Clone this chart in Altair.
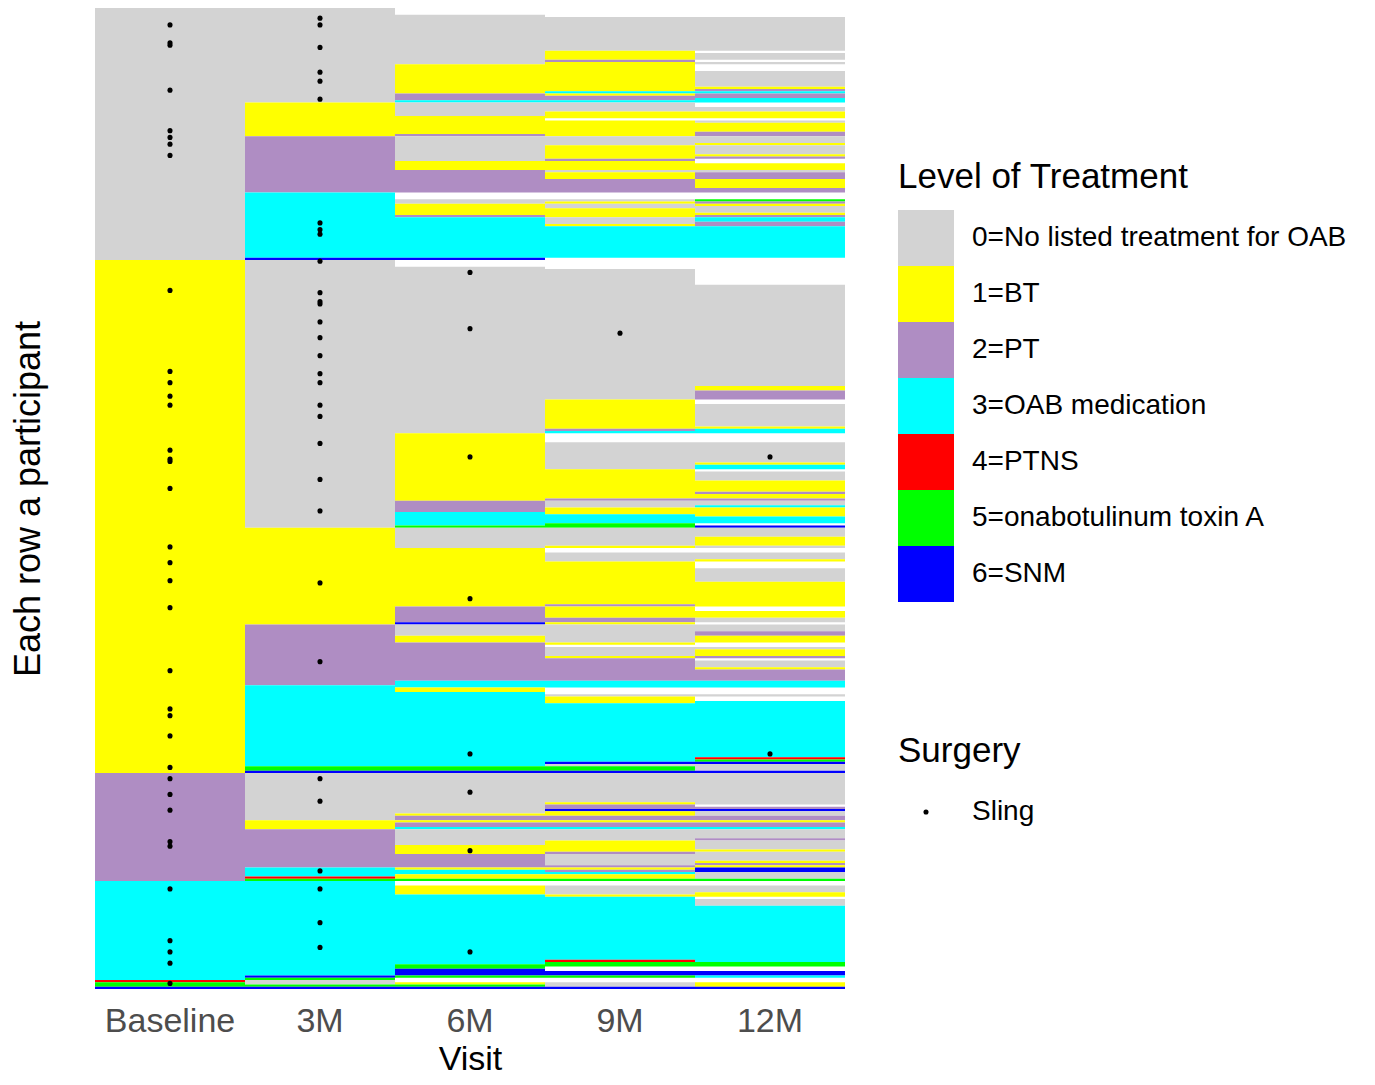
import altair as alt
import pandas as pd

VISITS = ["Baseline", "3M", "6M", "9M", "12M"]
LEVEL_LABELS = [
    "0=No listed treatment for OAB",
    "1=BT",
    "2=PT",
    "3=OAB medication",
    "4=PTNS",
    "5=onabotulinum toxin A",
    "6=SNM",
]
LEVEL_COLORS = ["#d3d3d3", "#ffff00", "#af8dc3", "#00ffff", "#ff0000", "#00ff00", "#0000ff"]
N_PARTICIPANTS = 436

# Runs of consecutive participants (top to bottom): (treatment level, number of participants)
# level -1 = no data recorded at that visit
RUNS_BASELINE = [(0, 112), (1, 228), (2, 48), (3, 44), (4, 1), (5, 2), (6, 1)]
RUNS_3M = [(0, 42), (1, 15), (2, 25), (3, 29), (6, 1), (0, 119), (1, 43), (2, 27), (3, 36), (5, 2),
           (6, 1), (0, 21), (1, 4), (2, 17), (3, 4), (4, 1), (5, 1), (3, 42), (6, 1), (5, 1), (0, 2),
           (5, 1), (6, 1)]
RUNS_6M = [(-1, 3), (0, 22), (1, 13), (2, 3), (3, 1), (0, 6), (1, 8), (2, 1), (0, 11), (1, 4), (2, 10),
           (-1, 3), (0, 2), (1, 5), (2, 1), (3, 18), (6, 1), (-1, 3), (0, 74), (1, 30), (2, 5), (3, 6),
           (5, 1), (0, 9), (1, 26), (2, 7), (6, 1), (0, 5), (1, 3), (2, 17), (3, 3), (1, 2), (3, 33),
           (5, 2), (6, 1), (0, 18), (1, 1), (2, 2), (1, 1), (2, 2), (3, 1), (0, 7), (1, 4), (2, 6),
           (1, 1), (3, 2), (1, 2), (5, 1), (-1, 2), (1, 4), (3, 31), (5, 2), (6, 3), (5, 1), (-1, 2),
           (1, 1), (5, 1), (6, 1)]
RUNS_9M = [(-1, 4), (0, 15), (1, 4), (2, 1), (1, 13), (3, 1), (1, 1), (2, 2), (3, 1), (0, 4), (1, 3),
           (-1, 1), (1, 7), (0, 4), (1, 6), (2, 1), (1, 4), (0, 1), (1, 3), (2, 6), (-1, 3), (0, 1),
           (1, 1), (0, 2), (1, 4), (0, 3), (1, 1), (3, 14), (-1, 5), (0, 58), (1, 13), (2, 1), (3, 1),
           (-1, 4), (0, 12), (1, 13), (2, 1), (0, 3), (1, 3), (3, 4), (5, 2), (0, 8), (1, 1), (-1, 2),
           (0, 4), (1, 19), (2, 1), (1, 5), (2, 2), (1, 1), (0, 8), (1, 1), (-1, 1), (0, 4), (1, 1),
           (2, 10), (3, 3), (-1, 3), (0, 1), (1, 3), (3, 26), (6, 1), (0, 1), (5, 2), (6, 1), (0, 13),
           (1, 1), (2, 2), (6, 1), (1, 2), (2, 2), (1, 1), (2, 2), (3, 1), (0, 5), (1, 5), (2, 1),
           (0, 5), (2, 1), (1, 1), (2, 1), (3, 1), (1, 2), (5, 1), (-1, 2), (0, 4), (1, 1), (3, 28),
           (4, 1), (5, 2), (-1, 2), (6, 2), (5, 1), (-1, 2), (0, 2), (6, 1)]
RUNS_12M = [(-1, 4), (0, 15), (-1, 1), (0, 3), (-1, 1), (0, 1), (-1, 3), (0, 7), (1, 1), (2, 1), (3, 1),
            (2, 2), (3, 2), (-1, 2), (0, 2), (1, 3), (-1, 1), (0, 1), (1, 4), (2, 2), (0, 3), (1, 1),
            (0, 4), (1, 1), (2, 1), (-1, 2), (1, 3), (0, 1), (2, 3), (1, 4), (2, 2), (-1, 3), (5, 1),
            (2, 1), (1, 1), (0, 3), (1, 1), (2, 1), (3, 2), (2, 2), (3, 14), (-1, 12), (0, 45), (1, 2),
            (2, 4), (-1, 2), (0, 10), (1, 1), (3, 2), (-1, 4), (0, 9), (1, 1), (3, 2), (-1, 1), (0, 4),
            (1, 5), (2, 1), (1, 2), (2, 1), (0, 2), (3, 1), (1, 4), (3, 3), (-1, 1), (6, 1), (0, 4),
            (1, 4), (0, 1), (-1, 2), (0, 3), (1, 1), (-1, 3), (0, 6), (1, 11), (-1, 2), (1, 3), (0, 2),
            (-1, 1), (0, 3), (2, 2), (1, 3), (-1, 2), (0, 1), (1, 3), (2, 1), (-1, 1), (0, 3), (1, 1),
            (2, 5), (3, 3), (-1, 3), (0, 1), (-1, 2), (3, 25), (4, 1), (5, 1), (6, 1), (0, 3), (6, 1),
            (0, 14), (-1, 1), (2, 1), (6, 1), (0, 2), (2, 2), (1, 1), (2, 2), (3, 1), (0, 4), (2, 1),
            (0, 4), (1, 1), (0, 4), (1, 1), (2, 1), (1, 1), (6, 2), (0, 3), (5, 1), (-1, 2), (0, 3),
            (1, 2), (-1, 1), (0, 3), (3, 25), (5, 2), (-1, 2), (6, 2), (3, 1), (-1, 2), (1, 2), (6, 1)]

# Participant rows (0 = top) with a sling surgery marked at each visit
SLING_BASELINE = [7, 15, 16, 36, 54, 57, 60, 65, 125, 161, 166, 172, 176, 196, 200, 201, 213, 239, 246,
                  254, 266, 294, 311, 314, 323, 337, 342, 349, 356, 370, 372, 391, 414, 419, 424, 433]
SLING_3M = [4, 7, 17, 28, 32, 40, 95, 98, 100, 112, 126, 130, 131, 139, 146, 154, 162, 166, 176, 181,
            193, 209, 223, 255, 290, 342, 352, 383, 391, 406, 417]
SLING_6M = [117, 142, 199, 262, 331, 348, 374, 419]
SLING_9M = [144]
SLING_12M = [199, 331]

ALL_RUNS = [RUNS_BASELINE, RUNS_3M, RUNS_6M, RUNS_9M, RUNS_12M]
ALL_SLING = [SLING_BASELINE, SLING_3M, SLING_6M, SLING_9M, SLING_12M]

seg_records = []
for visit, runs in zip(VISITS, ALL_RUNS):
    start = 0
    for level, n in runs:
        if level >= 0:
            seg_records.append({"visit": visit, "level": LEVEL_LABELS[level],
                                "start": start, "end": start + n})
        start += n
seg_df = pd.DataFrame(seg_records)

dot_records = []
for visit, rows in zip(VISITS, ALL_SLING):
    for r in rows:
        dot_records.append({"visit": visit, "pos": r + 0.5, "surgery": "Sling"})
dot_df = pd.DataFrame(dot_records)

FONT = "Liberation Sans"

x_enc = alt.X(
    "visit:N", sort=VISITS,
    scale=alt.Scale(domain=VISITS, paddingInner=0, paddingOuter=0),
    axis=alt.Axis(title="Visit", labelAngle=0, ticks=False, domain=False, grid=False,
                  labelFontSize=34, labelColor="#4d4d4d", labelPadding=15, labelFont=FONT,
                  titleFontSize=34, titleColor="black", titlePadding=4, titleFont=FONT,
                  titleFontWeight="normal"),
)
y_scale = alt.Scale(domain=[0, N_PARTICIPANTS], reverse=True, nice=False, zero=False)
y_axis = alt.Axis(title="Each row a participant", labels=False, ticks=False, domain=False, grid=False,
                  titleFontSize=36, titleFontWeight="normal", titleColor="black", titlePadding=48,
                  titleFont=FONT)

rects = alt.Chart(seg_df).mark_rect().encode(
    x=x_enc,
    y=alt.Y("start:Q", scale=y_scale, axis=y_axis),
    y2="end:Q",
    color=alt.Color(
        "level:N",
        scale=alt.Scale(domain=LEVEL_LABELS, range=LEVEL_COLORS),
        legend=alt.Legend(title="Level of Treatment", orient="none", legendX=803, legendY=152,
                          symbolType="square", symbolSize=3136, symbolStrokeWidth=0, symbolOpacity=1,
                          rowPadding=0, labelFontSize=28, labelFont=FONT, labelColor="black",
                          titleFontSize=35, titleFont=FONT, titleFontWeight="normal",
                          titleColor="black", titlePadding=15, labelOffset=18, padding=0,
                          labelLimit=500, titleLimit=500),
    ),
)

dots = alt.Chart(dot_df).mark_point(filled=True, size=26, color="black", opacity=1).encode(
    x=x_enc,
    y=alt.Y("pos:Q", scale=y_scale, axis=y_axis),
    shape=alt.Shape(
        "surgery:N",
        scale=alt.Scale(domain=["Sling"], range=["circle"]),
        legend=alt.Legend(title="Surgery", orient="none", legendX=803, legendY=726,
                          symbolSize=26, symbolFillColor="black", symbolStrokeColor="black",
                          symbolStrokeWidth=0, symbolOffset=14, labelOffset=32, rowPadding=0,
                          labelFontSize=28, labelFont=FONT, labelColor="black",
                          titleFontSize=35, titleFont=FONT, titleFontWeight="normal",
                          titleColor="black", titlePadding=29, padding=0, titleLimit=500),
    ),
)

chart = alt.layer(rects, dots).properties(
    width=750, height=981,
    padding={"left": 87, "top": 0, "right": 515, "bottom": 88},
    autosize=alt.AutoSizeParams(type="none"),
).configure(font=FONT).configure_view(stroke=None)

chart.save("out.html", embed_options={"renderer": "svg", "actions": False})
